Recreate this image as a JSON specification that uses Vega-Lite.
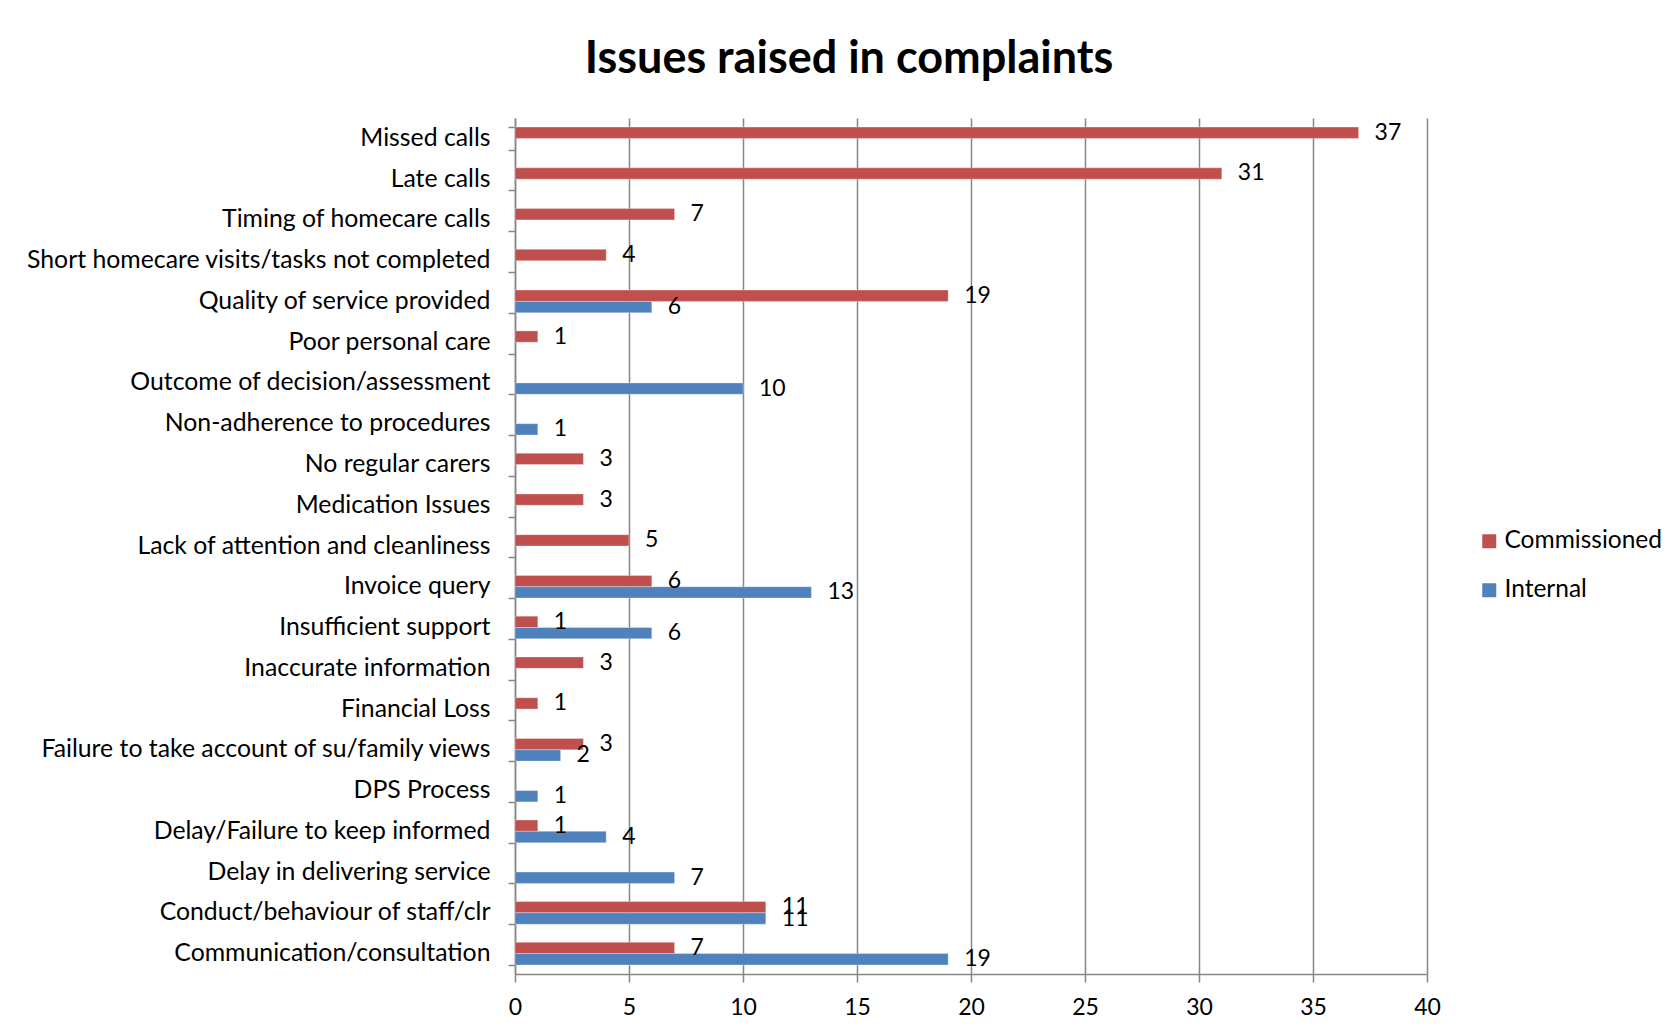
{
  "$schema": "https://vega.github.io/schema/vega-lite/v6.json",
  "autosize": {"type": "none"},
  "width": 912,
  "height": 856,
  "padding": {"left": 515, "top": 118, "right": 251, "bottom": 61},
  "background": "white",
  "title": {"text": "Issues raised in complaints", "font": "Lato", "fontSize": 45, "fontWeight": "bold", "color": "black", "anchor": "middle", "frame": "group", "dx": -122, "offset": 23},
  "config": {"view": {"stroke": null}, "font": "Lato"},
  "data": {"values": [
    {"issue": "Missed calls", "type": "Commissioned", "count": 37},
    {"issue": "Late calls", "type": "Commissioned", "count": 31},
    {"issue": "Timing of homecare calls", "type": "Commissioned", "count": 7},
    {"issue": "Short homecare visits/tasks not completed", "type": "Commissioned", "count": 4},
    {"issue": "Quality of service provided", "type": "Commissioned", "count": 19},
    {"issue": "Quality of service provided", "type": "Internal", "count": 6},
    {"issue": "Poor personal care", "type": "Commissioned", "count": 1},
    {"issue": "Outcome of decision/assessment", "type": "Internal", "count": 10},
    {"issue": "Non-adherence to procedures", "type": "Internal", "count": 1},
    {"issue": "No regular carers", "type": "Commissioned", "count": 3},
    {"issue": "Medication Issues", "type": "Commissioned", "count": 3},
    {"issue": "Lack of attention and cleanliness", "type": "Commissioned", "count": 5},
    {"issue": "Invoice query", "type": "Commissioned", "count": 6},
    {"issue": "Invoice query", "type": "Internal", "count": 13},
    {"issue": "Insufficient support", "type": "Commissioned", "count": 1},
    {"issue": "Insufficient support", "type": "Internal", "count": 6},
    {"issue": "Inaccurate information", "type": "Commissioned", "count": 3},
    {"issue": "Financial Loss", "type": "Commissioned", "count": 1},
    {"issue": "Failure to take account of su/family views", "type": "Commissioned", "count": 3},
    {"issue": "Failure to take account of su/family views", "type": "Internal", "count": 2},
    {"issue": "DPS Process", "type": "Internal", "count": 1},
    {"issue": "Delay/Failure to keep informed", "type": "Commissioned", "count": 1},
    {"issue": "Delay/Failure to keep informed", "type": "Internal", "count": 4},
    {"issue": "Delay in delivering  service", "type": "Internal", "count": 7},
    {"issue": "Conduct/behaviour of staff/clr", "type": "Commissioned", "count": 11},
    {"issue": "Conduct/behaviour of staff/clr", "type": "Internal", "count": 11},
    {"issue": "Communication/consultation", "type": "Commissioned", "count": 7},
    {"issue": "Communication/consultation", "type": "Internal", "count": 19}
  ]},
  "encoding": {
    "y": {
      "field": "issue", "type": "nominal", "sort": null,
      "scale": {"paddingInner": 0.445, "paddingOuter": 0.2225},
      "axis": {"title": null, "domainColor": "#868686", "domainWidth": 1.5, "tickColor": "#868686", "tickWidth": 1.5, "tickSize": 7, "tickBand": "extent", "labelFont": "Lato", "labelFontSize": 24.8, "labelColor": "black", "labelPadding": 18, "grid": false, "labelLimit": 700}
    },
    "yOffset": {"field": "type", "type": "nominal", "sort": ["Commissioned", "Internal"], "scale": {"domain": ["Commissioned", "Internal"], "paddingInner": 0, "paddingOuter": 0}},
    "x": {
      "field": "count", "type": "quantitative",
      "scale": {"domain": [0, 40], "nice": false},
      "axis": {"title": null, "values": [0, 5, 10, 15, 20, 25, 30, 35, 40], "grid": true, "gridColor": "#868686", "gridWidth": 1.5, "domainColor": "#868686", "domainWidth": 1.5, "tickColor": "#868686", "tickWidth": 1.5, "tickSize": 8, "labelFont": "Lato", "labelFontSize": 23, "labelPadding": 14, "labelColor": "black", "labelFlush": false}
    }
  },
  "layer": [
    {
      "mark": {"type": "bar", "stroke": "white", "strokeWidth": 0.5, "strokeOpacity": 0.6},
      "encoding": {
        "color": {
          "field": "type", "type": "nominal",
          "scale": {"domain": ["Commissioned", "Internal"], "range": ["#C0504D", "#4F81BD"]},
          "legend": {"title": null, "orient": "none", "legendX": 962, "legendY": 411, "symbolType": "square", "symbolSize": 196, "symbolStrokeWidth": 0, "labelFont": "Lato", "labelFontSize": 24.5, "labelColor": "black", "rowPadding": 24, "labelOffset": 3}
        }
      }
    },
    {
      "mark": {"type": "text", "align": "left", "baseline": "middle", "dx": 16, "fontSize": 23, "font": "Lato", "color": "black"},
      "encoding": {"text": {"field": "count", "type": "quantitative"}}
    }
  ]
}
